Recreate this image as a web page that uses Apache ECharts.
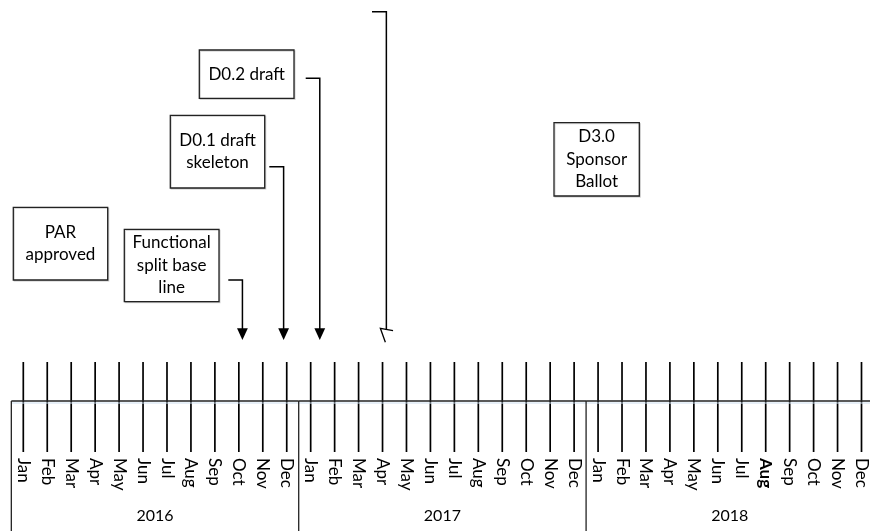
<!DOCTYPE html>
<html><head><meta charset="utf-8">
<script src="https://cdn.jsdelivr.net/npm/echarts@6/dist/echarts.min.js"></script>
<style>html,body{margin:0;padding:0;background:#fff}#c{width:870px;height:531px}</style>
</head><body><div id="c"></div>
<script>
// ---- data ----
const monthLabels = ['Jan','Feb','Mar','Apr','May','Jun','Jul','Aug','Sep','Oct','Nov','Dec'];
const years = ['2016','2017','2018'];
const milestoneNames = ['PAR\napproved', 'Functional\nsplit base\nline', 'D0.1 draft\nskeleton', 'D0.2 draft', '', 'D3.0\nSponsor\nBallot'];
// month index (0 = Jan 2016) that each milestone arrow points to; null = no arrow
const milestoneMonths = [null, 9.15, 10.87, 12.38, 15.16, null];
const boldMonthIndex = 31; // Aug 2018 shown bold

// ---- layout (pixels) ----
const boxLayout = [
  {x: 13.3, y: 207.3, w: 94.4, h: 72.7},
  {x: 124.3, y: 229.3, w: 94.7, h: 72.4, ax0: 228.3, ay: 280},
  {x: 170.3, y: 115.3, w: 94.4, h: 72.7, ax0: 269.3, ay: 166.7},
  {x: 199.3, y: 50, w: 94.7, h: 48.3, ax0: 305.7, ay: 78.3},
  {ax0: 372, ay: 11.7, open: true},
  {x: 554, y: 122.7, w: 85.3, h: 73.3}
];
const FONT = 'Lato, "Open Sans", sans-serif';

const chart = echarts.init(document.getElementById('c'), null, {renderer: 'canvas'});
const total = monthLabels.length * years.length;
const monthIdx = Array.from({length: total}, (_, i) => i);

chart.setOption({
  animation: false,
  grid: {left: 23.3, right: 1.3, top: 0, bottom: 79},
  xAxis: {
    type: 'value', min: 0, max: total - 1, interval: 1,
    axisLine: {show: false},
    splitLine: {show: false},
    axisTick: {show: false},
    axisLabel: {
      rotate: -90, margin: 6, color: '#000', fontFamily: FONT, fontSize: 17,
      showMinLabel: true, showMaxLabel: true, hideOverlap: false,
      formatter: v => {
        const s = monthLabels[v % 12];
        return v === boldMonthIndex ? '{b|' + s + '}' : s;
      },
      rich: {b: {fontWeight: 'bold', fontFamily: FONT, fontSize: 17, color: '#000'}}
    }
  },
  yAxis: {type: 'value', min: 0, max: 452, inverse: true, show: false},
  series: [
    {
      // month tick lines
      type: 'custom', clip: false, silent: true,
      data: monthIdx.map(m => [m, 0]),
      renderItem: (params, api) => {
        const a = api.coord([api.value(0), 362]);
        const b = api.coord([api.value(0), 452]);
        return {type: 'line', shape: {x1: a[0], y1: a[1], x2: b[0], y2: b[1]}, style: {stroke: '#000', lineWidth: 1.7}};
      }
    },
    {
      type: 'custom', clip: false, silent: true,
      data: years.map((y, i) => [i * 12 - 0.5, 0]),
      renderItem: (params, api) => {
        const i = params.dataIndex;
        const start = api.value(0);
        const p0 = api.coord([start, 401]);
        const p1 = api.coord([start + 12, 401]);
        const pm = api.coord([start + 6, 516]);
        return {type: 'group', children: [
          {type: 'line', shape: {x1: p0[0], y1: 403, x2: p1[0], y2: 403}, style: {stroke: '#cfe0f0', lineWidth: 1}},
          {type: 'line', shape: {x1: p0[0], y1: p0[1], x2: p1[0], y2: p1[1]}, style: {stroke: '#222', lineWidth: 1.3}},
          {type: 'line', shape: {x1: p0[0], y1: p0[1], x2: p0[0], y2: 531}, style: {stroke: '#222', lineWidth: 1.3}},
          {type: 'text', style: {text: years[i], x: pm[0], y: pm[1], align: 'center', verticalAlign: 'middle',
            fontFamily: FONT, fontSize: 16, fill: '#000'}}
        ]};
      }
    },
    {
      type: 'custom', clip: false, silent: true,
      data: milestoneNames.map((n, i) => [milestoneMonths[i] == null ? 0 : milestoneMonths[i], 0]),
      renderItem: (params, api) => {
        const i = params.dataIndex;
        const L = boxLayout[i];
        const children = [];
        if (L.w) {
          children.push({type: 'rect', shape: {x: L.x, y: L.y, width: L.w, height: L.h},
            style: {fill: '#fff', stroke: '#222', lineWidth: 1.3, shadowColor: 'rgba(0,0,0,0.15)', shadowOffsetX: 1, shadowOffsetY: 1}});
          children.push({type: 'text', style: {text: milestoneNames[i], x: L.x + L.w / 2, y: L.y + L.h / 2,
            align: 'center', verticalAlign: 'middle', fontFamily: FONT, fontSize: 17, lineHeight: 22.5, fill: '#000'}});
        }
        const m = milestoneMonths[i];
        if (m != null) {
          const ax = api.coord([m, 0])[0];
          if (L.open) {
            children.push({type: 'polyline', shape: {points: [[L.ax0, L.ay], [ax, L.ay], [ax, 330]]},
              style: {stroke: '#000', lineWidth: 1.5, fill: null}});
            children.push({type: 'polyline', shape: {points: [[ax + 6.7, 330.7], [ax - 6, 328.3], [ax - 1, 342.3]]},
              style: {stroke: '#000', lineWidth: 1.3, fill: null}});
          } else {
            children.push({type: 'polyline', shape: {points: [[L.ax0, L.ay], [ax, L.ay], [ax, 329]]},
              style: {stroke: '#000', lineWidth: 1.5, fill: null}});
            children.push({type: 'polygon', shape: {points: [[ax - 5.4, 328.3], [ax + 5.4, 328.3], [ax, 340]]},
              style: {fill: '#000'}});
          }
        }
        return {type: 'group', children};
      }
    }
  ]
});
</script></body></html>
